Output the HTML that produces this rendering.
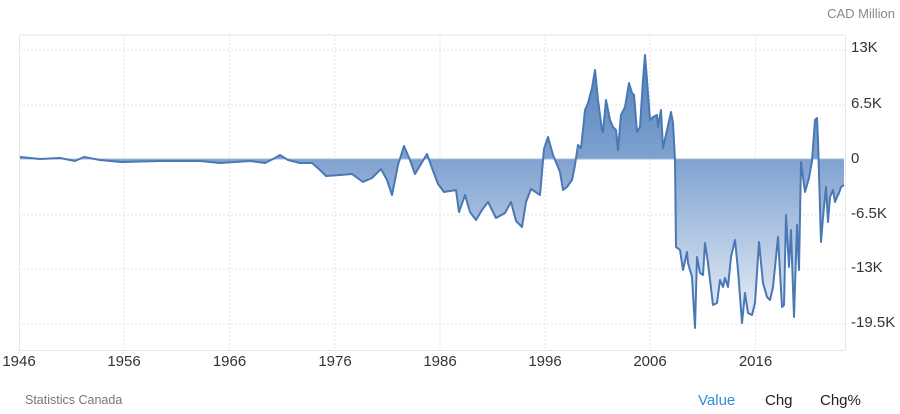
<!DOCTYPE html>
<html><head><meta charset="utf-8"><style>
html,body{margin:0;padding:0;background:#fff;}
svg{display:block;font-family:"Liberation Sans",Arial,sans-serif;}
</style></head><body>
<svg width="900" height="414" viewBox="0 0 900 414" xmlns="http://www.w3.org/2000/svg">
<defs>
<linearGradient id="g" gradientUnits="userSpaceOnUse" x1="0" y1="50" x2="0" y2="330">
<stop offset="0" stop-color="#4f7fbb"/>
<stop offset="0.39" stop-color="#80a2d0"/>
<stop offset="1" stop-color="#eef3fa"/>
</linearGradient>
<path id="d" fill="none" d="M20,157 L40,159 L60,158 L75,161 L84,157 L100,160 L121,162 L160,161 L200,161 L220,163 L250,161 L265,163 L275,158 L280,155 L288,160 L300,163 L312,163 L320,170 L326,176 L340,175 L352,174 L363,182 L372,178 L381,169 L387,180 L392,195 L398,165 L404,146 L410,160 L415,174 L421,164 L427,154 L432,168 L438,184 L444,192 L456,190 L459,212 L465,195 L470,212 L476,220 L482,210 L488,202 L496,218 L505,213 L511,202 L516,221 L522,227 L526,202 L531,189 L540,195 L544,149 L548,137 L553,155 L560,172 L563,190 L567,187 L572,180 L575,165 L578,145 L581,148 L583,130 L585,110 L588,103 L592,88 L595,70 L598,100 L602,130 L603,132 L606,100 L610,120 L613,127 L616,130 L618,150 L621,115 L625,107 L629,83 L632,93 L634,95 L637,132 L640,127 L643,80 L645,55 L647,80 L650,120 L653,117 L657,115 L658,127 L661,110 L663,148 L667,130 L671,112 L673,123 L675,160 L676,247 L680,250 L683,270 L687,252 L688,263 L692,277 L695,328 L697,257 L700,273 L703,275 L705,243 L708,263 L713,305 L717,303 L720,280 L723,287 L725,278 L728,287 L731,257 L735,240 L738,270 L742,323 L745,293 L748,313 L752,315 L755,303 L759,242 L763,283 L767,297 L770,300 L773,287 L778,237 L782,307 L784,305 L786,215 L789,267 L791,230 L794,317 L797,225 L799,270 L801,162 L805,192 L809,178 L812,161 L815,120 L817,118 L818,140 L821,242 L823,217 L826,187 L828,222 L830,197 L833,190 L835,202 L837,197 L839,193 L841,187 L844,185"/>
</defs>
<g stroke="#e3e3e3" stroke-width="1" stroke-dasharray="2,2">
<line x1="19" y1="50" x2="845" y2="50"/>
<line x1="19" y1="105" x2="845" y2="105"/>
<line x1="19" y1="215" x2="845" y2="215"/>
<line x1="19" y1="269" x2="845" y2="269"/>
<line x1="19" y1="324" x2="845" y2="324"/>
<line x1="124" y1="35" x2="124" y2="350"/>
<line x1="229.5" y1="35" x2="229.5" y2="350"/>
<line x1="335" y1="35" x2="335" y2="350"/>
<line x1="440" y1="35" x2="440" y2="350"/>
<line x1="545" y1="35" x2="545" y2="350"/>
<line x1="650" y1="35" x2="650" y2="350"/>
<line x1="755.5" y1="35" x2="755.5" y2="350"/>
</g>
<g stroke="#e6e6e6" stroke-width="1" fill="none">
<line x1="19.5" y1="35" x2="19.5" y2="350"/>
<line x1="845.5" y1="35" x2="845.5" y2="350"/>
<line x1="19" y1="35" x2="845" y2="35"/>
<line x1="19" y1="350.5" x2="845" y2="350.5"/>
</g>
<path d="M20,157 L40,159 L60,158 L75,161 L84,157 L100,160 L121,162 L160,161 L200,161 L220,163 L250,161 L265,163 L275,158 L280,155 L288,160 L300,163 L312,163 L320,170 L326,176 L340,175 L352,174 L363,182 L372,178 L381,169 L387,180 L392,195 L398,165 L404,146 L410,160 L415,174 L421,164 L427,154 L432,168 L438,184 L444,192 L456,190 L459,212 L465,195 L470,212 L476,220 L482,210 L488,202 L496,218 L505,213 L511,202 L516,221 L522,227 L526,202 L531,189 L540,195 L544,149 L548,137 L553,155 L560,172 L563,190 L567,187 L572,180 L575,165 L578,145 L581,148 L583,130 L585,110 L588,103 L592,88 L595,70 L598,100 L602,130 L603,132 L606,100 L610,120 L613,127 L616,130 L618,150 L621,115 L625,107 L629,83 L632,93 L634,95 L637,132 L640,127 L643,80 L645,55 L647,80 L650,120 L653,117 L657,115 L658,127 L661,110 L663,148 L667,130 L671,112 L673,123 L675,160 L676,247 L680,250 L683,270 L687,252 L688,263 L692,277 L695,328 L697,257 L700,273 L703,275 L705,243 L708,263 L713,305 L717,303 L720,280 L723,287 L725,278 L728,287 L731,257 L735,240 L738,270 L742,323 L745,293 L748,313 L752,315 L755,303 L759,242 L763,283 L767,297 L770,300 L773,287 L778,237 L782,307 L784,305 L786,215 L789,267 L791,230 L794,317 L797,225 L799,270 L801,162 L805,192 L809,178 L812,161 L815,120 L817,118 L818,140 L821,242 L823,217 L826,187 L828,222 L830,197 L833,190 L835,202 L837,197 L839,193 L841,187 L844,185 L844,159 L20,159 Z" fill="url(#g)" stroke="none"/>
<line x1="20" y1="159" x2="844" y2="159" stroke="#9fb8dc" stroke-width="1"/>
<use href="#d" stroke="#4a78b4" stroke-width="2" stroke-linejoin="round"/>
<g font-size="15" fill="#333">
<text x="851" y="52">13K</text>
<text x="851" y="108">6.5K</text>
<text x="851" y="163">0</text>
<text x="851" y="218">-6.5K</text>
<text x="851" y="272">-13K</text>
<text x="851" y="327">-19.5K</text>
</g>
<g font-size="15" fill="#333" text-anchor="middle">
<text x="19" y="366">1946</text>
<text x="124" y="366">1956</text>
<text x="229.5" y="366">1966</text>
<text x="335" y="366">1976</text>
<text x="440" y="366">1986</text>
<text x="545" y="366">1996</text>
<text x="650" y="366">2006</text>
<text x="755.5" y="366">2016</text>
</g>
<text x="895" y="18" font-size="13" fill="#888" text-anchor="end">CAD Million</text>
<text x="25" y="404" font-size="12.5" fill="#777">Statistics Canada</text>
<text x="698" y="405" font-size="15" fill="#2a8fd4">Value</text>
<text x="765" y="405" font-size="15" fill="#222">Chg</text>
<text x="820" y="405" font-size="15" fill="#222">Chg%</text>
</svg>
</body></html>
